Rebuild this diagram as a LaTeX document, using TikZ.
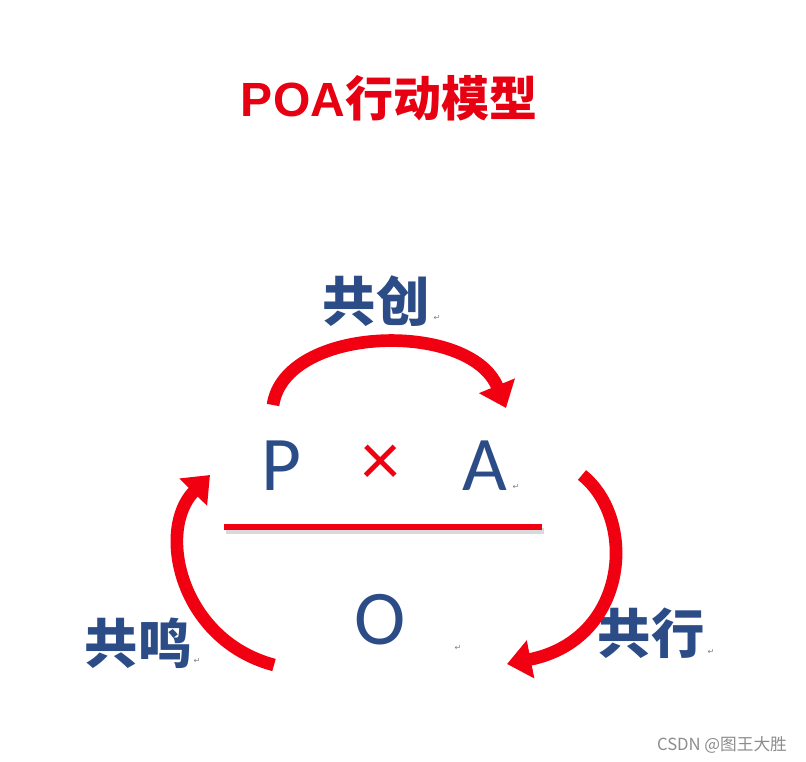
\documentclass[tikz,border=0pt]{standalone}
\usepackage{fontspec}
\usetikzlibrary{arrows.meta, positioning, calc}
\usepackage{xcolor}
\newfontfamily\cjk{Noto Sans CJK SC}
\newfontfamily\lsans{Liberation Sans}
\newfontfamily\calib{Carlito}
\newfontfamily\dejavu{DejaVu Sans}
\definecolor{PoaRed}{HTML}{E60012}
\definecolor{ArrowRed}{HTML}{F00010}
\definecolor{PoaBlue}{HTML}{2B4C87}

\begin{document}
\begin{tikzpicture}[x=0.75pt, y=-0.75pt,
    lbl/.style={text=PoaBlue, font=\cjk\bfseries\fontsize{40}{40}\selectfont, inner sep=0pt},
    letter/.style={text=PoaBlue, font=\calib\fontsize{58}{58}\selectfont, inner sep=0pt, anchor=base},
    ret/.style={text=gray, font=\dejavu\fontsize{6}{6}\selectfont, inner sep=0pt},
    turn/.style={draw=ArrowRed, line width=9.5pt, -{Triangle[width=28pt, length=18pt]}}]
        \useasboundingbox (0,0) rectangle (806,762);
        % title
        \node (title) at (389,98) [text=PoaRed, inner sep=0pt] {\lsans\bfseries\fontsize{36}{36}\selectfont POA\cjk 行动模型};
        % formula
        \node (p) at (281,490) [letter] {P};
        \node (a) at (485,490) [letter] {A};
        \node (x) at (381,465) [text=ArrowRed, font=\calib\fontsize{58}{58}\selectfont, inner sep=0pt] {×};
        \node (o) at (380,644) [letter] {O};
        \coordinate (barl) at (224,527);
        \coordinate (barr) at (542,527);
        \draw[line width=4.5pt, black!25, opacity=0.6] ($(barl)+(2,4)$) -- ($(barr)+(2,4)$);
        \draw[line width=4.5pt, ArrowRed] (barl) -- (barr);
        % labels
        \node (chuang) at (376,301) [lbl] {共创};
        \node (ming) at (138,643) [lbl] {共鸣};
        \node (xing) at (651,633) [lbl] {共行};
        \node (r1) at (437,318) [ret] {↵};
        \node (r2) at (516,487) [ret] {↵};
        \node (r3) at (458,648) [ret] {↵};
        \node (r4) at (197,661) [ret] {↵};
        \node (r5) at (711,652) [ret] {↵};
        % cycle arrows
        \coordinate (t1) at (273,405);
        \coordinate (t2) at (506,408);
        \coordinate (l1) at (274,665);
        \coordinate (l2) at (210,475);
        \coordinate (r1s) at (582,475);
        \coordinate (r2s) at (507,664);
        \draw[turn] (t1) .. controls (285,325) and (470,320) .. (t2);
        \draw[turn] (l1) .. controls (180,640) and (156,530) .. (l2);
        \draw[turn] (r1s) .. controls (638,520) and (628,640) .. (r2s);
        % watermark
        \node (mark) at (722,745) [text=black!45, font=\cjk\fontsize{12.5}{12.5}\selectfont, inner sep=0pt] {CSDN @图王大胜};
    \end{tikzpicture}
\end{document}
